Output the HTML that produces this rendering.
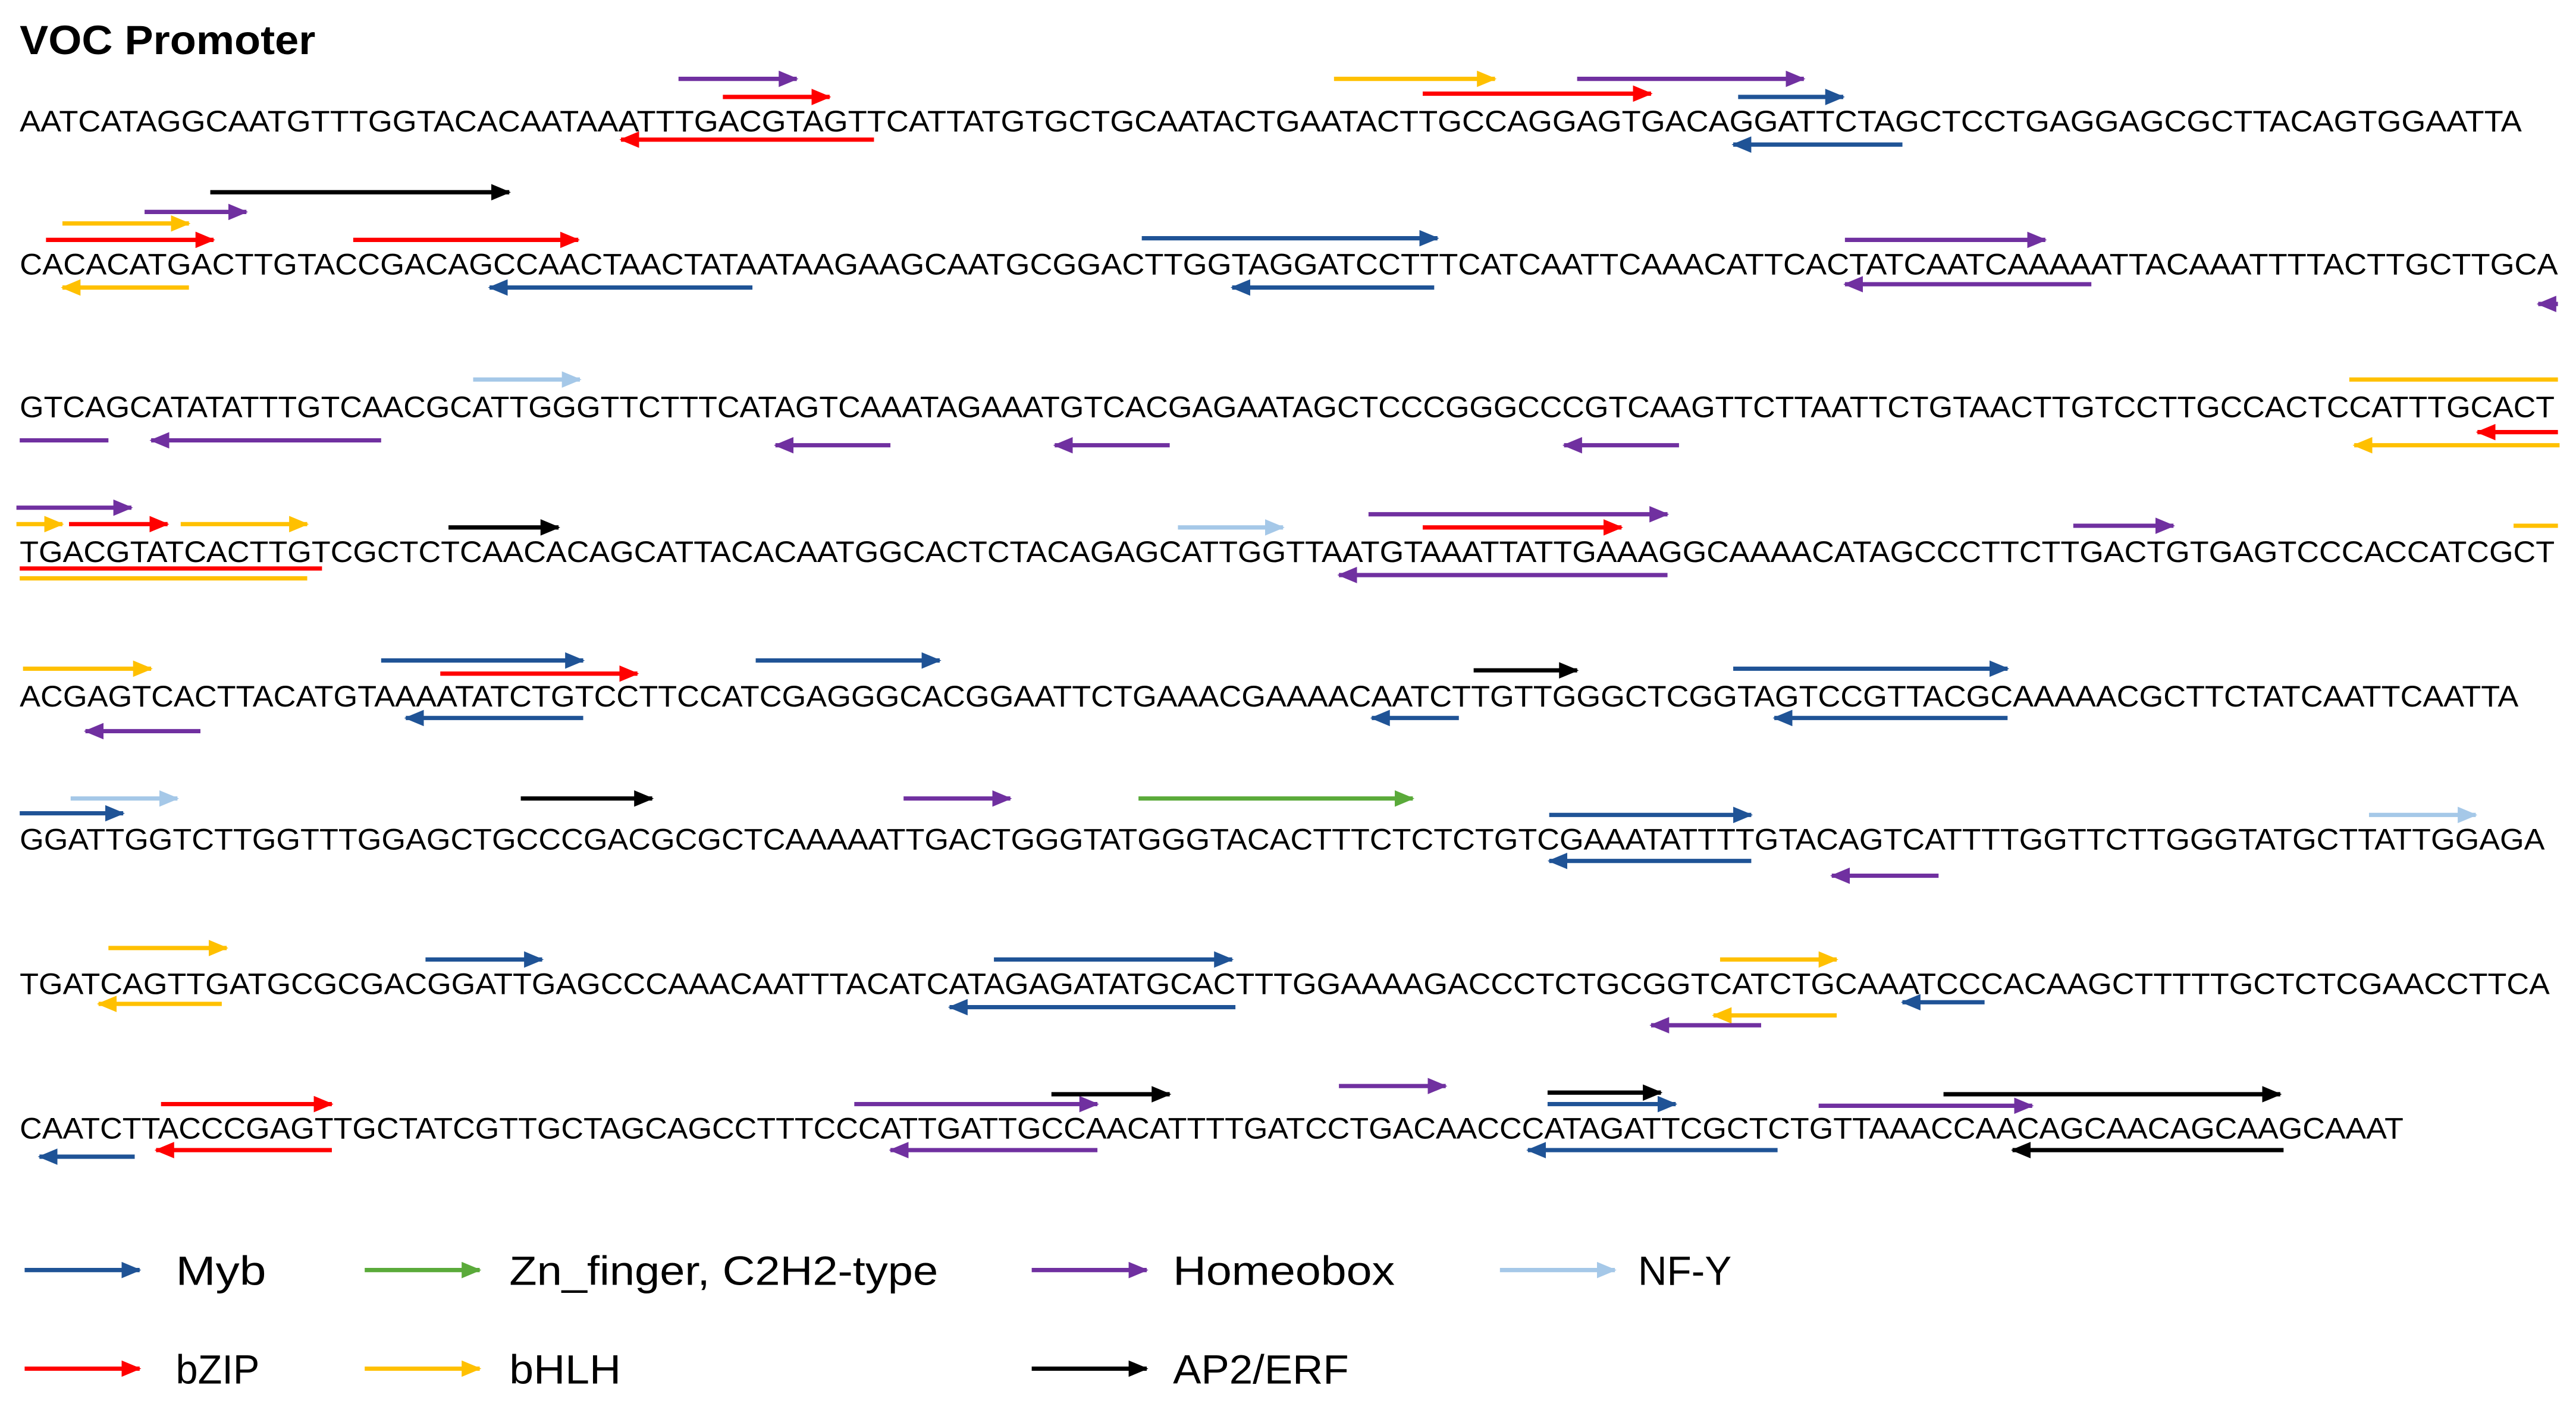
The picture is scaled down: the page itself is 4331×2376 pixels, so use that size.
<!DOCTYPE html>
<html><head><meta charset="utf-8"><style>
html,body{margin:0;padding:0;background:#fff;width:4331px;height:2376px;overflow:hidden}
svg{display:block}
.s{font-family:"Liberation Sans",sans-serif;font-size:18px;fill:#000}
.l{font-family:"Liberation Sans",sans-serif;font-size:25px;fill:#000}
line{stroke-width:2.6}
.B{stroke:#1f5396;marker-end:url(#mB)}
.G{stroke:#5aaa3a;marker-end:url(#mG)}
.P{stroke:#7030a0;marker-end:url(#mP)}
.N{stroke:#a5c8e8;marker-end:url(#mN)}
.R{stroke:#ff0000;marker-end:url(#mR)}
.Y{stroke:#ffc000;marker-end:url(#mY)}
.K{stroke:#000;marker-end:url(#mK)}
</style></head><body>
<svg width="4331" height="2376" viewBox="0 0 1568 860" preserveAspectRatio="none" xmlns="http://www.w3.org/2000/svg">
<defs>
<marker id="mB" markerUnits="userSpaceOnUse" markerWidth="12" markerHeight="10" refX="11" refY="5" orient="auto"><path d="M0,0L12,5L0,10z" fill="#1f5396"/></marker>
<marker id="mG" markerUnits="userSpaceOnUse" markerWidth="12" markerHeight="10" refX="11" refY="5" orient="auto"><path d="M0,0L12,5L0,10z" fill="#5aaa3a"/></marker>
<marker id="mP" markerUnits="userSpaceOnUse" markerWidth="12" markerHeight="10" refX="11" refY="5" orient="auto"><path d="M0,0L12,5L0,10z" fill="#7030a0"/></marker>
<marker id="mN" markerUnits="userSpaceOnUse" markerWidth="12" markerHeight="10" refX="11" refY="5" orient="auto"><path d="M0,0L12,5L0,10z" fill="#a5c8e8"/></marker>
<marker id="mR" markerUnits="userSpaceOnUse" markerWidth="12" markerHeight="10" refX="11" refY="5" orient="auto"><path d="M0,0L12,5L0,10z" fill="#ff0000"/></marker>
<marker id="mY" markerUnits="userSpaceOnUse" markerWidth="12" markerHeight="10" refX="11" refY="5" orient="auto"><path d="M0,0L12,5L0,10z" fill="#ffc000"/></marker>
<marker id="mK" markerUnits="userSpaceOnUse" markerWidth="12" markerHeight="10" refX="11" refY="5" orient="auto"><path d="M0,0L12,5L0,10z" fill="#000"/></marker>
</defs>
<text x="12" y="33" font-family="Liberation Sans,sans-serif" font-weight="bold" font-size="25" textLength="180" lengthAdjust="spacingAndGlyphs">VOC Promoter</text>

<text class="s" x="12" y="80" textLength="1523" lengthAdjust="spacingAndGlyphs">AATCATAGGCAATGTTTGGTACACAATAAATTTGACGTAGTTCATTATGTGCTGCAATACTGAATACTTGCCAGGAGTGACAGGATTCTAGCTCCTGAGGAGCGCTTACAGTGGAATTA</text>
<text class="s" x="12" y="167" textLength="1545" lengthAdjust="spacingAndGlyphs">CACACATGACTTGTACCGACAGCCAACTAACTATAATAAGAAGCAATGCGGACTTGGTAGGATCCTTTCATCAATTCAAACATTCACTATCAATCAAAAATTACAAATTTTACTTGCTTGCA</text>
<text class="s" x="12" y="254" textLength="1543" lengthAdjust="spacingAndGlyphs">GTCAGCATATATTTGTCAACGCATTGGGTTCTTTCATAGTCAAATAGAAATGTCACGAGAATAGCTCCCGGGCCCGTCAAGTTCTTAATTCTGTAACTTGTCCTTGCCACTCCATTTGCACT</text>
<text class="s" x="12" y="342" textLength="1543" lengthAdjust="spacingAndGlyphs">TGACGTATCACTTGTCGCTCTCAACACAGCATTACACAATGGCACTCTACAGAGCATTGGTTAATGTAAATTATTGAAAGGCAAAACATAGCCCTTCTTGACTGTGAGTCCCACCATCGCT</text>
<text class="s" x="12" y="430" textLength="1521" lengthAdjust="spacingAndGlyphs">ACGAGTCACTTACATGTAAAATATCTGTCCTTCCATCGAGGGCACGGAATTCTGAAACGAAAACAATCTTGTTGGGCTCGGTAGTCCGTTACGCAAAAACGCTTCTATCAATTCAATTA</text>
<text class="s" x="12" y="517" textLength="1537" lengthAdjust="spacingAndGlyphs">GGATTGGTCTTGGTTTGGAGCTGCCCGACGCGCTCAAAAATTGACTGGGTATGGGTACACTTTCTCTCTGTCGAAATATTTTGTACAGTCATTTTGGTTCTTGGGTATGCTTATTGGAGA</text>
<text class="s" x="12" y="605" textLength="1540" lengthAdjust="spacingAndGlyphs">TGATCAGTTGATGCGCGACGGATTGAGCCCAAACAATTTACATCATAGAGATATGCACTTTGGAAAAGACCCTCTGCGGTCATCTGCAAATCCCACAAGCTTTTTGCTCTCGAACCTTCA</text>
<text class="s" x="12" y="693" textLength="1451" lengthAdjust="spacingAndGlyphs">CAATCTTACCCGAGTTGCTATCGTTGCTAGCAGCCTTTCCCATTGATTGCCAACATTTTGATCCTGACAACCCATAGATTCGCTCTGTTAAACCAACAGCAACAGCAAGCAAAT</text>

<!-- line 1 -->
<line class="P" x1="413" y1="48" x2="485" y2="48"/>
<line class="R" x1="440" y1="59" x2="505" y2="59"/>
<line class="R" x1="532" y1="85" x2="378" y2="85"/>
<line class="Y" x1="812" y1="48" x2="910" y2="48"/>
<line class="P" x1="960" y1="48" x2="1098" y2="48"/>
<line class="R" x1="866" y1="57" x2="1005" y2="57"/>
<line class="B" x1="1058" y1="59" x2="1122" y2="59"/>
<line class="B" x1="1158" y1="88" x2="1055" y2="88"/>
<!-- line 2 -->
<line class="K" x1="128" y1="117" x2="310" y2="117"/>
<line class="P" x1="88" y1="129" x2="150" y2="129"/>
<line class="Y" x1="38" y1="136" x2="115" y2="136"/>
<line class="R" x1="28" y1="146" x2="130" y2="146"/>
<line class="R" x1="215" y1="146" x2="352" y2="146"/>
<line class="Y" x1="115" y1="175" x2="38" y2="175"/>
<line class="B" x1="458" y1="175" x2="298" y2="175"/>
<line class="B" x1="695" y1="145" x2="875" y2="145"/>
<line class="B" x1="873" y1="175" x2="750" y2="175"/>
<line class="P" x1="1123" y1="146" x2="1245" y2="146"/>
<line class="P" x1="1273" y1="173" x2="1123" y2="173"/>
<line class="P" x1="1557" y1="185" x2="1545" y2="185"/>
<!-- line 3 -->
<line class="N" x1="288" y1="231" x2="353" y2="231"/>
<line x1="1430" y1="231" x2="1557" y2="231" stroke="#ffc000"/>
<line x1="12" y1="268" x2="66" y2="268" stroke="#7030a0"/>
<line class="P" x1="232" y1="268" x2="92" y2="268"/>
<line class="P" x1="542" y1="271" x2="472" y2="271"/>
<line class="P" x1="712" y1="271" x2="642" y2="271"/>
<line class="P" x1="1022" y1="271" x2="952" y2="271"/>
<line class="R" x1="1557" y1="263" x2="1508" y2="263"/>
<line class="Y" x1="1558" y1="271" x2="1433" y2="271"/>
<!-- line 4 -->
<line class="P" x1="10" y1="309" x2="80" y2="309"/>
<line class="Y" x1="10" y1="319" x2="38" y2="319"/>
<line class="R" x1="42" y1="319" x2="102" y2="319"/>
<line class="Y" x1="110" y1="319" x2="187" y2="319"/>
<line x1="12" y1="346" x2="196" y2="346" stroke="#ff0000" stroke-width="2"/>
<line x1="12" y1="352" x2="187" y2="352" stroke="#ffc000" stroke-width="2"/>
<line class="K" x1="273" y1="321" x2="340" y2="321"/>
<line class="N" x1="717" y1="321" x2="781" y2="321"/>
<line class="P" x1="833" y1="313" x2="1015" y2="313"/>
<line class="R" x1="866" y1="321" x2="987" y2="321"/>
<line class="P" x1="1015" y1="350" x2="815" y2="350"/>
<line class="P" x1="1262" y1="320" x2="1323" y2="320"/>
<line x1="1530" y1="320" x2="1557" y2="320" stroke="#ffc000"/>
<!-- line 5 -->
<line class="Y" x1="14" y1="407" x2="92" y2="407"/>
<line class="B" x1="232" y1="402" x2="355" y2="402"/>
<line class="R" x1="268" y1="410" x2="388" y2="410"/>
<line class="B" x1="355" y1="437" x2="247" y2="437"/>
<line class="B" x1="460" y1="402" x2="572" y2="402"/>
<line class="K" x1="897" y1="408" x2="960" y2="408"/>
<line class="B" x1="1055" y1="407" x2="1222" y2="407"/>
<line class="B" x1="888" y1="437" x2="835" y2="437"/>
<line class="B" x1="1222" y1="437" x2="1080" y2="437"/>
<line class="P" x1="122" y1="445" x2="52" y2="445"/>
<!-- line 6 -->
<line class="B" x1="12" y1="495" x2="75" y2="495"/>
<line class="N" x1="43" y1="486" x2="108" y2="486"/>
<line class="K" x1="317" y1="486" x2="397" y2="486"/>
<line class="P" x1="550" y1="486" x2="615" y2="486"/>
<line class="G" x1="693" y1="486" x2="860" y2="486"/>
<line class="B" x1="943" y1="496" x2="1066" y2="496"/>
<line class="B" x1="1066" y1="524" x2="943" y2="524"/>
<line class="P" x1="1180" y1="533" x2="1115" y2="533"/>
<line class="N" x1="1442" y1="496" x2="1507" y2="496"/>
<!-- line 7 -->
<line class="Y" x1="66" y1="577" x2="138" y2="577"/>
<line class="Y" x1="135" y1="611" x2="60" y2="611"/>
<line class="B" x1="259" y1="584" x2="330" y2="584"/>
<line class="B" x1="605" y1="584" x2="750" y2="584"/>
<line class="B" x1="752" y1="613" x2="578" y2="613"/>
<line class="Y" x1="1047" y1="584" x2="1118" y2="584"/>
<line class="Y" x1="1118" y1="618" x2="1043" y2="618"/>
<line class="P" x1="1072" y1="624" x2="1005" y2="624"/>
<line class="B" x1="1208" y1="610" x2="1158" y2="610"/>
<!-- line 8 -->
<line class="R" x1="98" y1="672" x2="202" y2="672"/>
<line class="R" x1="202" y1="700" x2="95" y2="700"/>
<line class="B" x1="82" y1="704" x2="24" y2="704"/>
<line class="P" x1="520" y1="672" x2="668" y2="672"/>
<line class="K" x1="640" y1="666" x2="712" y2="666"/>
<line class="P" x1="668" y1="700" x2="542" y2="700"/>
<line class="P" x1="815" y1="661" x2="880" y2="661"/>
<line class="K" x1="942" y1="665" x2="1011" y2="665"/>
<line class="B" x1="942" y1="672" x2="1020" y2="672"/>
<line class="B" x1="1082" y1="700" x2="930" y2="700"/>
<line class="P" x1="1107" y1="673" x2="1237" y2="673"/>
<line class="K" x1="1183" y1="666" x2="1388" y2="666"/>
<line class="K" x1="1390" y1="700" x2="1225" y2="700"/>

<!-- legend -->
<line class="B" x1="15" y1="773" x2="85" y2="773"/><text class="l" x="107" y="782" textLength="55" lengthAdjust="spacingAndGlyphs">Myb</text>
<line class="G" x1="222" y1="773" x2="292" y2="773"/><text class="l" x="310" y="782" textLength="261" lengthAdjust="spacingAndGlyphs">Zn_finger, C2H2-type</text>
<line class="P" x1="628" y1="773" x2="698" y2="773"/><text class="l" x="714" y="782" textLength="135" lengthAdjust="spacingAndGlyphs">Homeobox</text>
<line class="N" x1="913" y1="773" x2="983" y2="773"/><text class="l" x="997" y="782" textLength="57" lengthAdjust="spacingAndGlyphs">NF-Y</text>
<line class="R" x1="15" y1="833" x2="85" y2="833"/><text class="l" x="107" y="842" textLength="51" lengthAdjust="spacingAndGlyphs">bZIP</text>
<line class="Y" x1="222" y1="833" x2="292" y2="833"/><text class="l" x="310" y="842" textLength="68" lengthAdjust="spacingAndGlyphs">bHLH</text>
<line class="K" x1="628" y1="833" x2="698" y2="833"/><text class="l" x="714" y="842" textLength="107" lengthAdjust="spacingAndGlyphs">AP2/ERF</text>
</svg>
</body></html>
